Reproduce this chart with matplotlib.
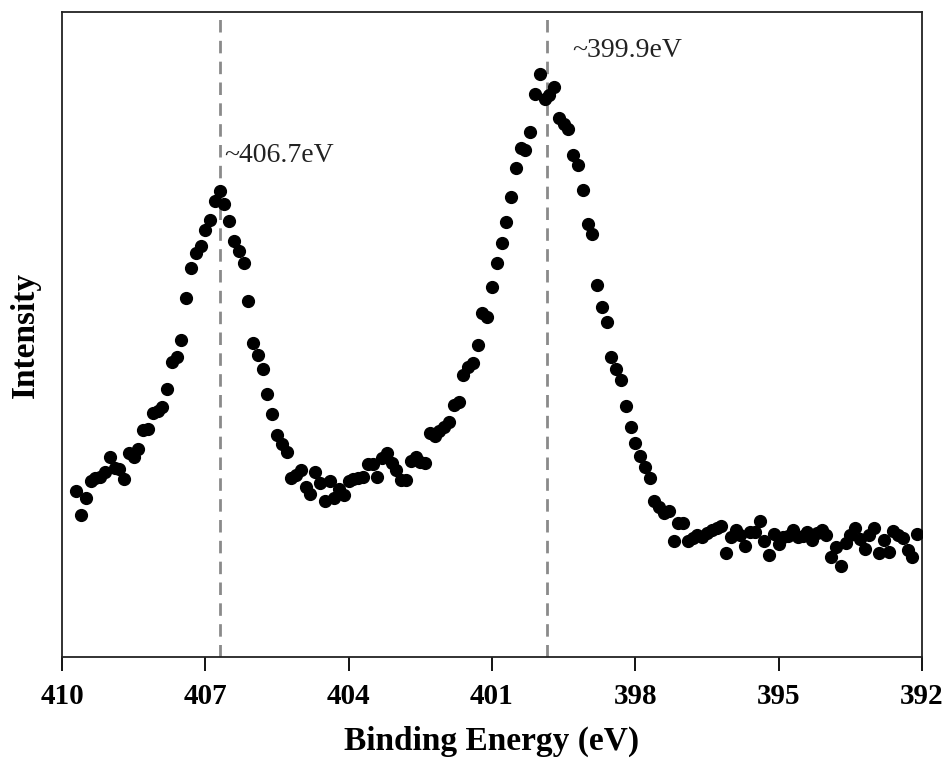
import numpy as np
import matplotlib
matplotlib.use("Agg")
import matplotlib.pyplot as plt

plt.rcParams['font.family'] = ['Liberation Serif', 'DejaVu Serif']

# N 1s spectrum: 409.7 eV down to 392.1 eV, 0.1 eV steps
intensity = [
    166, 142, 159, 176, 179, 180, 185, 200,                 # 409.7 - 409.0
    189, 188, 178, 204, 200, 208, 227, 228, 244, 246,       # 408.9 - 408.0
    250, 268, 295, 300, 317, 359, 389, 404, 411, 427,       # 407.9 - 407.0
    437, 456, 466, 453, 436, 416, 406, 394, 356, 314,       # 406.9 - 406.0
    302, 288, 263, 243, 222, 213, 205, 179, 182, 187,       # 405.9 - 405.0
    170, 163, 185, 174, 156, 176, 159, 168, 162, 176,       # 404.9 - 404.0
    178, 179, 180, 193, 193, 180, 199, 204, 194, 187,       # 403.9 - 403.0
    177, 177, 196, 200, 195, 194, 224, 221, 226, 230,       # 402.9 - 402.0
    235, 252, 255, 282, 290, 294, 312, 344, 340, 370,       # 401.9 - 401.0
    394, 414, 435, 460, 489, 509, 507, 525, 563, 583,       # 400.9 - 400.0
    558, 562, 570, 539, 533, 528, 502, 492, 467, 433,       # 399.9 - 399.0
    423, 372, 350, 335, 300, 288, 277, 251, 230, 214,       # 398.9 - 398.0
    201, 190, 179, 156, 150, 144, 146, 116, 134, 134,       # 397.9 - 397.0
    116, 119, 122, 120, 124, 127, 129, 131, 104, 120,       # 396.9 - 396.0
    127, 122, 111, 125, 125, 136, 116, 102, 123, 113,       # 395.9 - 395.0
    120, 121, 127, 120, 121, 125, 117, 124, 127, 122,       # 394.9 - 394.0
    100, 110, 91, 114, 122, 129, 118, 108, 122, 129,        # 393.9 - 393.0
    104, 117, 105, 126, 122, 119, 107, 100, 123,            # 392.9 - 392.1
]
energy = np.linspace(409.7, 392.1, len(intensity))

peaks = [406.7, 399.85]
peak_labels = ['~406.7eV', '~399.9eV']
label_pos = [(406.6, 502), (399.32, 607)]

xticks = [410, 407, 404, 401, 398, 395, 392]

fig = plt.figure(figsize=(9.51, 7.60), dpi=100)
ax = fig.add_axes([0.0652, 0.1355, 0.9043, 0.8487])

for p in peaks:
    ax.axvline(p, color='#8a8a8a', lw=2, ls=(0, (4.5, 3)), zorder=1)

ax.plot(energy, intensity, 'o', color='black', ms=8.5, zorder=3)

for txt, (x, y) in zip(peak_labels, label_pos):
    ax.text(x, y, txt, fontsize=20, va='center', ha='left', color='#222222')

ax.set_xlim(410, 392)
ax.set_ylim(0, 645)
ax.set_xticks(xticks)
ax.set_yticks([])
ax.tick_params(axis='x', direction='out', length=10, width=1.3, pad=9,
               labelsize=21)
for lab in ax.get_xticklabels():
    lab.set_fontweight('bold')

for s in ax.spines.values():
    s.set_linewidth(1.3)
    s.set_color('#222222')

ax.set_xlabel('Binding Energy (eV)', fontsize=24, fontweight='bold', labelpad=11)
ax.set_ylabel('Intensity', fontsize=24, fontweight='bold', labelpad=15)

fig.savefig('out.png', dpi=100)
